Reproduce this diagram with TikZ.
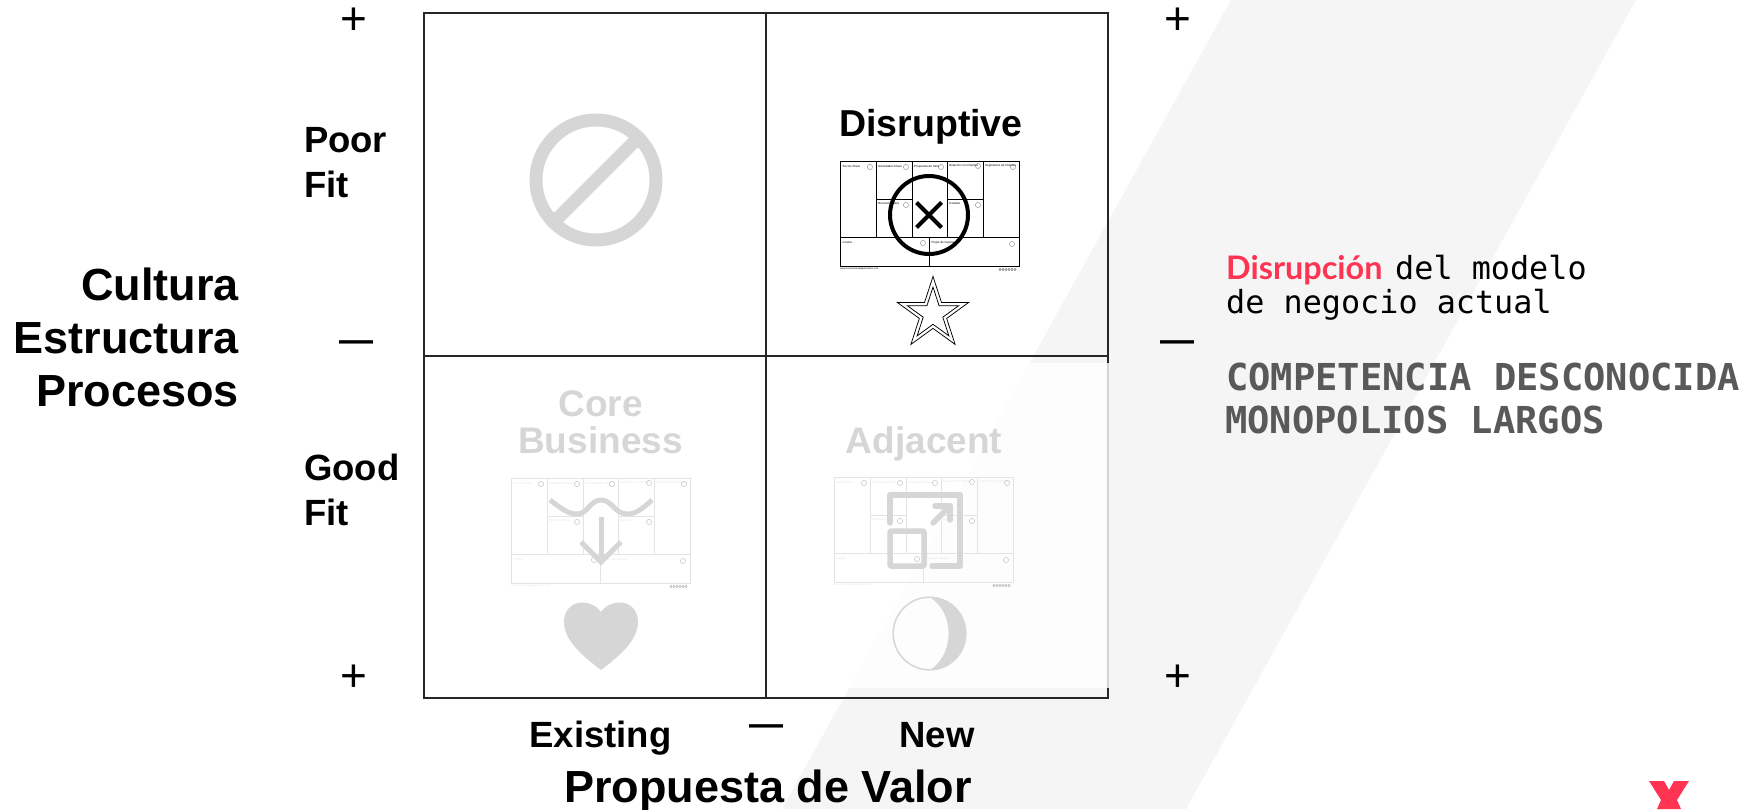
\documentclass[tikz,border=0pt]{standalone}
\usepackage{fontspec}
\setmainfont{Liberation Sans}
\newfontfamily\monof{DejaVu Sans Mono}
\newfontfamily\latof{Lato}
\definecolor{bandc}{HTML}{F5F5F5}
\definecolor{iconc}{HTML}{D6D6D6}
\definecolor{redc}{HTML}{FF3352}
\definecolor{darkt}{HTML}{595959}
\definecolor{framec}{HTML}{E4E4E4}
\newcommand\fs[1]{\fontsize{#1}{#1}\selectfont}
\tikzset{
  lab/.style={anchor=base,inner sep=0pt,outer sep=0pt,font=\bfseries\fs{36.5}},
  labl/.style={lab,anchor=base west},
  big/.style={anchor=base east,inner sep=0pt,font=\bfseries\fs{45}},
  sgn/.style={anchor=center,inner sep=0pt,font=\fs{46},text height=.42em,text depth=0pt},
  dsh/.style={anchor=base,inner sep=0pt,font=\bfseries\fs{34}},
  mono/.style={anchor=base west,inner sep=0pt,font=\monof\fs{31.8}},
  monob/.style={anchor=base west,inner sep=0pt,text=darkt,font=\monof\bfseries\fs{37.1}},
  tiny/.style={anchor=north west,inner sep=0pt,font=\fs{3}},
  ico/.style={draw=iconc,line width=5pt},
}
% business model canvas thumbnail: name, x, y, colour
\newcommand\bmc[4]{%
\begin{scope}[shift={(#2,#3)},draw=#4,text=#4]
  \draw[line width=1pt] (0,0) rectangle (179,105);
  \draw[line width=.8pt] (0,76.5)--(179,76.5);
  \draw[line width=.8pt] (36,0)--(36,76.5) (72,0)--(72,76.5) (107,0)--(107,76.5) (143,0)--(143,76.5);
  \draw[line width=.8pt] (36,38)--(72,38) (107,38)--(143,38) (89.5,76.5)--(89.5,105);
  \node[tiny] (#1a) at (2.5,4) {Socios Clave};
  \node[tiny] (#1b) at (38,4) {Actividades Clave};
  \node[tiny] (#1c) at (74,4) {Propuesta de Valor};
  \node[tiny] (#1d) at (109,3) {Relación con Clientes};
  \node[tiny] (#1e) at (145,3) {Segmentos de Clientes};
  \node[tiny] (#1f) at (38,41) {Recursos Clave};
  \node[tiny] (#1g) at (109,41) {Canales};
  \node[tiny] (#1h) at (2.5,80) {Costos};
  \node[tiny] (#1i) at (91.5,80) {Flujos de Ingresos};
  \node[tiny,font=\fs{2.4}] (#1j) at (0,107) {www.businessmodelgeneration.com};
  \foreach \ix/\iy in {30/6,66/6,101/6,138/5,173/6,66/44,138/44,83/82,172/83}{
    \draw[draw=gray!70!#4,line width=.25pt] (\ix,\iy) circle[radius=2.6];}
  \foreach \ix in {160,163,166,169,172,175}{
    \draw[draw=gray!70!#4,line width=.25pt] (\ix,108.5) circle[radius=1.1];}
\end{scope}}
\newcommand\starp[3]{\draw[line width=.75pt,fill=white,shift={(#1,#2)},scale=#3]
  (0,-1)--(.2245,-.309)--(.951,-.309)--(.363,.118)--(.588,.809)--(0,.382)--(-.588,.809)--(-.363,.118)--(-.951,-.309)--(-.2245,-.309)--cycle;}
\begin{document}
\begin{tikzpicture}[x=1pt,y=-1pt]
\useasboundingbox (0,0) rectangle (1746,809);
% band
\fill[bandc] (1231,0)--(1636,0)--(1186,809)--(782,809)--cycle;
% quadrant frame
\draw[line width=1.3pt,black!85] (424,13) rectangle (1108,698);
\draw[line width=1.3pt,black!85] (766,13)--(766,698) (424,356)--(1108,356);
\fill[white,opacity=.8] (767,363) rectangle (1109,688);
% forbidden
\draw[draw=iconc,line width=13pt] (596,180) circle[radius=60];
\draw[draw=iconc,line width=13pt] (553,223)--(639,137);
% disruptive
\node[lab,font=\bfseries\fs{37.5}] (tdis) at (931,136) {Disruptive};
\bmc{d}{840}{161}{black}
\draw[line width=4pt] (929,215) circle[radius=39];
\draw[line width=4pt] (916.5,202.5)--(941.5,227.5) (941.5,202.5)--(916.5,227.5);
\starp{933}{314}{37.6}
\starp{933}{314}{27}
% core business
\node[lab,text=iconc,font=\bfseries\fs{37}] (tcore) at (600.5,416) {Core};
\node[lab,text=iconc,font=\bfseries\fs{37}] (tbus) at (600.5,453) {Business};
\bmc{c}{511}{478}{framec}
\draw[ico] (550,500) .. controls (562,509) and (568,514) .. (577,514) .. controls (588,514) and (590,500) .. (601,500) .. controls (612,500) and (615,514) .. (627,514) .. controls (636,514) and (642,509) .. (652,500);
\draw[ico] (601,517)--(601,562);
\draw[ico] (581,542)--(601,562)--(621,542);
\fill[iconc] (601,612) .. controls (606,605) and (613,602.5) .. (620,602.5) .. controls (631,602.5) and (638,611) .. (638,622) .. controls (638,641) and (618,657) .. (601,670) .. controls (584,657) and (564,641) .. (564,622) .. controls (564,611) and (571,602.5) .. (582,602.5) .. controls (589,602.5) and (596,605) .. (601,612) -- cycle;
% adjacent
\node[lab,text=iconc,font=\bfseries\fs{37}] (tadj) at (924,453) {Adjacent};
\bmc{a}{834}{477}{framec}
\draw[ico,line width=5.5pt,line cap=round,line join=round] (890,523)--(890,495)--(960,495)--(960,566)--(932,566);
\draw[ico,line width=5.5pt,line join=round,rounded corners=1pt] (890,531) rectangle (924,566);
\draw[ico,line width=5.5pt,line cap=round,line join=round] (933,523)--(950,506);
\draw[ico,line width=5.5pt,line cap=round,line join=round] (935,506)--(950,506)--(950,520);
\draw[draw=iconc,line width=1.5pt] (929.5,633.5) circle[radius=36.3];
\fill[iconc] (929.5,597) .. controls (949.8,597) and (966.2,613.2) .. (966.2,633.5) .. controls (966.2,653.8) and (949.8,670.2) .. (929.5,670.2) .. controls (955,655) and (955,612) .. (929.5,597) -- cycle;
% axis labels
\node[big] (lcul) at (239,300) {Cultura};
\node[big] (lest) at (239,353) {Estructura};
\node[big] (lpro) at (239,406) {Procesos};
\node[labl] (lpoor) at (304,152) {Poor};
\node[labl] (lfit) at (304,197) {Fit};
\node[labl] (lgood) at (304,480) {Good};
\node[labl] (lfit2) at (304,525) {Fit};
\node[lab] (lex) at (600.5,747) {Existing};
\node[lab] (lnew) at (937,747) {New};
\node[lab,font=\bfseries\fs{45}] (lprop) at (768,802) {Propuesta de Valor};
% signs
\node[sgn] (s1) at (354,32) {+};
\node[sgn] (s2) at (1178,32) {+};
\node[sgn] (s3) at (354,689) {+};
\node[sgn] (s4) at (1178,689) {+};
\node[dsh] (d1) at (356,351) {—};
\node[dsh] (d2) at (1177,351) {—};
\node[dsh] (d3) at (766,735) {—};
% right text
\node[anchor=base west,inner sep=0pt,text=redc,font=\latof\bfseries\fs{32.4}] (rdis) at (1226,279) {Disrupción};
\node[mono] (rdel) at (1395,279) {del modelo};
\node[mono] (rneg) at (1226,313) {de negocio actual};
\node[monob] (rcom) at (1226,390) {COMPETENCIA DESCONOCIDA};
\node[monob] (rmon) at (1225,433) {MONOPOLIOS LARGOS};
% logo
\fill[redc] (1649,781)--(1664,781)--(1669,790)--(1674,781)--(1689,781)--(1677,800)--(1681,809)--(1657,809)--(1661,800)--cycle;
\end{tikzpicture}
\end{document}
